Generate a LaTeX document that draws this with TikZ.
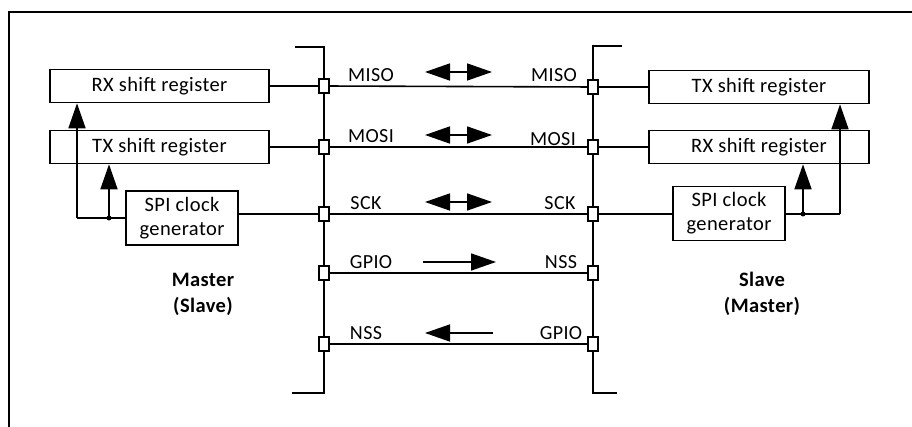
\documentclass[tikz,border=0pt]{standalone}
\usepackage{fontspec}
\setmainfont{Carlito}[LetterSpace=2]
\usetikzlibrary{arrows.meta}
\begin{document}
\begin{tikzpicture}[x=1pt,y=-1pt,
  reg/.style={draw,line width=1.6pt,minimum width=219pt,minimum height=33pt,inner sep=0pt,font=\fontsize{20.5}{22}\selectfont},
  gen/.style={draw,line width=1.6pt,minimum width=112pt,minimum height=54pt,inner sep=0pt,align=center,font=\fontsize{20.5}{24}\selectfont},
  pin/.style={draw,fill=white,line width=1.4pt,minimum width=10pt,minimum height=14pt,inner sep=0pt},
  sig/.style={inner sep=0pt,font=\fontsize{20}{22}\selectfont},
  role/.style={inner sep=0pt,align=center,font=\bfseries\fontsize{20.5}{26}\selectfont},
  wire/.style={line width=1.6pt},
  bus/.style={line width=1.8pt},
  big/.style={line width=1.6pt,-{Triangle[length=25pt,width=17pt]}},
  bigboth/.style={line width=1.6pt,{Triangle[length=25pt,width=17pt]}-{Triangle[length=25pt,width=17pt]}},
  dot/.style={circle,fill,inner sep=0pt,minimum size=5pt}]
\useasboundingbox (0,0) rectangle (912,427);
% frame
\draw[line width=1.5pt] (9,427) -- (9,12) -- (912,12);
% buses
\coordinate (lt0) at (295,47); \coordinate (lt1) at (324,47);
\coordinate (lb1) at (324,393); \coordinate (lb0) at (292,393);
\coordinate (rt0) at (622,46); \coordinate (rt1) at (593,46);
\coordinate (rb1) at (593,393); \coordinate (rb0) at (617,393);
\draw[bus] (lt0) -- (lt1) -- (lb1) -- (lb0);
\draw[bus] (rt0) -- (rt1) -- (rb1) -- (rb0);
% left boxes
\node[reg] (rxL) at (159.5,86) {RX shift register};
\node[reg] (txL) at (159.5,147) {TX shift register};
\node[gen] (spiL) at (182,218) {SPI clock\\generator};
% right boxes
\node[reg,minimum width=220pt] (txR) at (759,87) {TX shift register};
\node[reg,minimum width=220pt] (rxR) at (759,147) {RX shift register};
\node[gen] (spiR) at (729,213.5) {SPI clock\\generator};
% pin positions
\coordinate (pL1) at (324,86);  \coordinate (pR1) at (593,87);
\coordinate (pL2) at (324,147); \coordinate (pR2) at (593,147);
\coordinate (pL3) at (324,214); \coordinate (pR3) at (593,214);
\coordinate (pL4) at (324,273); \coordinate (pR4) at (593,273);
\coordinate (pL5) at (324,344); \coordinate (pR5) at (593,344);
% wires to boxes
\draw[wire] (rxL.east |- pL1) -- (pL1);
\draw[wire] (txL.east |- pL2) -- (pL2);
\draw[wire] (spiL.east |- pL3) -- (pL3);
\draw[wire] (pR1) -- (txR.west |- pR1);
\draw[wire] (pR2) -- (rxR.west |- pR2);
\draw[wire] (pR3) -- (spiR.west |- pR3);
% lines between buses
\foreach \i in {1,...,5} {\draw[wire] (pL\i) -- (pR\i);}
% pins
\foreach \i in {1,...,5} {
  \node[pin] (sqL\i) at (pL\i) {};
  \node[pin] (sqR\i) at (pR\i) {};
}
% left clock distribution
\coordinate (cl0) at (77,218);
\node[dot] (dL) at (109,218) {};
\draw[wire] (spiL.west) -- (dL.center) -- (cl0);
\draw[big] (cl0) -- (cl0 |- rxL.south);
\draw[big] (dL.center) -- (dL.center |- txL.south);
% right clock distribution
\coordinate (cr0) at (840,214);
\node[dot] (dR) at (803,214) {};
\draw[wire] (spiR.east |- cr0) -- (dR.center) -- (cr0);
\draw[big] (cr0) -- (cr0 |- txR.south);
\draw[big] (dR.center) -- (dR.center |- rxR.south);
% signal labels
\node[sig] (l1) at (371,75) {MISO};
\node[sig] (r1) at (554,75) {MISO};
\node[sig] (l2) at (371,136) {MOSI};
\node[sig] (r2) at (553,139) {MOSI};
\node[sig] (l3) at (366,203) {SCK};
\node[sig] (r3) at (560,203) {SCK};
\node[sig] (l4) at (371,262) {GPIO};
\node[sig] (r4) at (561,262) {NSS};
\node[sig] (l5) at (366,333) {NSS};
\node[sig] (r5) at (561,333) {GPIO};
% direction arrows
\coordinate (a1a) at (425,72);  \coordinate (a1b) at (492,72);
\coordinate (a2a) at (425,135); \coordinate (a2b) at (492,135);
\coordinate (a3a) at (425,202); \coordinate (a3b) at (492,202);
\coordinate (a4a) at (423,262); \coordinate (a4b) at (496,262);
\coordinate (a5a) at (493,333); \coordinate (a5b) at (425,333);
\draw[bigboth] (a1a) -- (a1b);
\draw[bigboth] (a2a) -- (a2b);
\draw[bigboth] (a3a) -- (a3b);
\draw[big] (a4a) -- (a4b);
\draw[big] (a5a) -- (a5b);
% roles
\node[role] (mL) at (203,294) {Master\\(Slave)};
\node[role] (mR) at (762,294) {Slave\\(Master)};
\end{tikzpicture}
\end{document}
